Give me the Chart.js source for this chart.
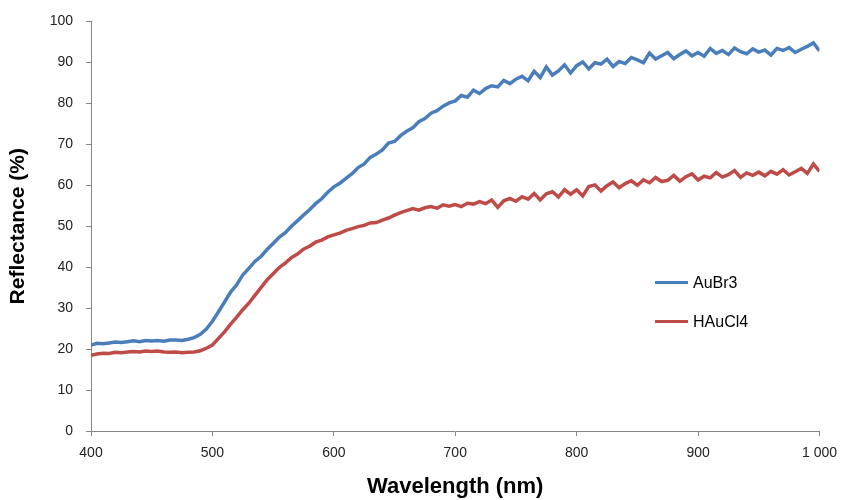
<!DOCTYPE html>
<html>
<head>
<meta charset="utf-8">
<script src="https://cdn.jsdelivr.net/npm/chart.js@4"></script>
<style>
  html, body { margin: 0; padding: 0; background: #fff; }
  #wrap { position: relative; width: 846px; height: 500px; }
</style>
</head>
<body>
<div id="wrap"><canvas id="chart" width="846" height="500"></canvas></div>
<script>
// wavelength grid (nm), 400 -> 1000 every 5 nm
const wavelengths = [];
for (let w = 400; w <= 1000; w += 5) wavelengths.push(w);

const auBr3 = [
    21.0, 21.4, 21.3, 21.5, 21.7, 21.6, 21.8, 22.0, 21.8, 22.1,
    22.0, 22.1, 21.9, 22.2, 22.2, 22.1, 22.4, 22.8, 23.6, 24.9,
    26.8, 29.1, 31.5, 33.9, 35.7, 38.1, 39.7, 41.4, 42.6, 44.3,
    45.8, 47.3, 48.4, 50.0, 51.3, 52.7, 54.0, 55.5, 56.7, 58.3,
    59.6, 60.5, 61.7, 62.8, 64.3, 65.2, 66.8, 67.6, 68.6, 70.3,
    70.7, 72.1, 73.2, 74.0, 75.5, 76.3, 77.6, 78.2, 79.3, 80.1,
    80.6, 81.9, 81.5, 83.2, 82.4, 83.6, 84.3, 84.0, 85.6, 84.8,
    85.9, 86.6, 85.5, 87.8, 86.3, 88.9, 86.9, 87.9, 89.4, 87.4,
    89.2, 90.1, 88.4, 89.9, 89.6, 90.8, 89.0, 90.2, 89.7, 91.2,
    90.6, 89.9, 92.3, 90.8, 91.6, 92.4, 90.9, 91.9, 92.8, 91.6,
    92.4, 91.5, 93.4, 92.2, 92.9, 91.9, 93.5, 92.6, 92.1, 93.3,
    92.5, 93.0, 91.8, 93.4, 92.9, 93.6, 92.4, 93.2, 93.9, 94.8,
    92.8
];
const hAuCl4 = [
    18.5, 18.8, 19.0, 18.9, 19.2, 19.1, 19.3, 19.4, 19.3, 19.5,
    19.4, 19.5, 19.3, 19.2, 19.3, 19.1, 19.2, 19.3, 19.6, 20.2,
    21.0, 22.6, 24.2, 26.1, 27.8, 29.6, 31.2, 33.1, 35.0, 36.9,
    38.4, 39.9, 41.0, 42.3, 43.2, 44.4, 45.1, 46.1, 46.6, 47.4,
    47.9, 48.3, 49.0, 49.4, 49.9, 50.2, 50.8, 50.9, 51.5, 52.0,
    52.7, 53.3, 53.8, 54.3, 53.9, 54.5, 54.8, 54.4, 55.2, 54.9,
    55.3, 54.8, 55.6, 55.4, 56.0, 55.5, 56.4, 54.6, 56.2, 56.8,
    56.1, 57.2, 56.6, 58.0, 56.4, 57.9, 58.4, 57.1, 58.9, 57.8,
    58.9, 57.4, 59.7, 60.1, 58.6, 59.9, 60.8, 59.4, 60.4, 61.1,
    60.0, 61.3, 60.6, 61.9, 60.9, 61.2, 62.4, 61.0, 62.1, 62.8,
    61.3, 62.2, 61.8, 63.1, 62.0, 62.6, 63.6, 61.9, 63.0, 62.4,
    63.2, 62.3, 63.4, 62.7, 63.8, 62.5, 63.3, 64.1, 62.9, 65.2,
    63.4
];

const xTickLabels = ['400', '500', '600', '700', '800', '900', '1 000'];
const seriesNames = ['AuBr3', 'HAuCl4'];
const seriesColors = ['#4A7EBB', '#BE4B48'];

const FONT = "'Liberation Sans', Arial, sans-serif";
const axisGray = '#868686';

function toPoints(ys) {
    return wavelengths.map((w, i) => ({ x: w, y: ys[i] }));
}

// legend drawn inside the plot, like the original
const insideLegend = {
    id: 'insideLegend',
    afterDraw(chart) {
        const ctx = chart.ctx;
        const a = chart.chartArea;
        ctx.save();
        ctx.font = '16px ' + FONT;
        ctx.textBaseline = 'middle';
        chart.data.datasets.forEach((ds, i) => {
            const y = a.top + 261 + i * 39;
            const x = a.left + 564;
            ctx.strokeStyle = ds.borderColor;
            ctx.lineWidth = 3;
            ctx.beginPath();
            ctx.moveTo(x, y);
            ctx.lineTo(x + 33, y);
            ctx.stroke();
            ctx.fillStyle = '#000';
            ctx.fillText(ds.label, x + 38, y + 1);
        });
        ctx.restore();
    }
};

const ctx = document.getElementById('chart').getContext('2d');
new Chart(ctx, {
    type: 'line',
    data: {
        datasets: [
            { label: seriesNames[0], data: toPoints(auBr3), borderColor: seriesColors[0], borderWidth: 3.5, pointRadius: 0, tension: 0 },
            { label: seriesNames[1], data: toPoints(hAuCl4), borderColor: seriesColors[1], borderWidth: 3.5, pointRadius: 0, tension: 0 }
        ]
    },
    options: {
        responsive: false,
        animation: false,
        layout: { padding: { top: 18, right: 25, left: 0, bottom: 0 } },
        plugins: { legend: { display: false }, tooltip: { enabled: false } },
        scales: {
            x: {
                type: 'linear',
                min: 400, max: 1000,
                afterBuildTicks: s => { s.ticks = xTickLabels.map((t, i) => ({ value: 400 + i * 100 })); },
                afterFit: s => { s.height = 69; },
                ticks: {
                    color: '#222',
                    font: { family: FONT, size: 14 },
                    padding: 9,
                    maxRotation: 0,
                    autoSkip: false,
                    callback: (v, i) => xTickLabels[i]
                },
                grid: { drawOnChartArea: false, drawTicks: true, tickLength: 5, color: axisGray },
                border: { color: axisGray, width: 1 },
                title: { display: true, text: 'Wavelength (nm)', color: '#000', font: { family: FONT, size: 22, weight: 'bold' }, padding: { top: 0, bottom: 0 } }
            },
            y: {
                min: 0, max: 100,
                afterFit: s => { s.width = 91; },
                ticks: {
                    stepSize: 10,
                    color: '#222',
                    font: { family: FONT, size: 14 },
                    padding: 13
                },
                grid: { drawOnChartArea: false, drawTicks: true, tickLength: 5, color: axisGray },
                border: { color: axisGray, width: 1 },
                title: { display: true, text: 'Reflectance (%)', color: '#000', font: { family: FONT, size: 21, weight: 'bold' }, padding: { top: 6, bottom: 0 } }
            }
        }
    },
    plugins: [insideLegend]
});
</script>
</body>
</html>
